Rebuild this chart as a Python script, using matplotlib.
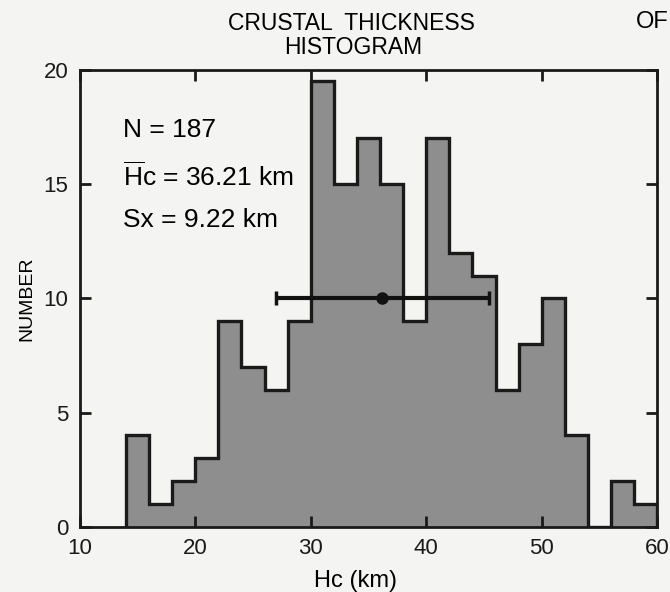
import numpy as np
import matplotlib.pyplot as plt

plt.rcParams["font.family"] = ["Liberation Sans", "DejaVu Sans"]
plt.rcParams["mathtext.fontset"] = "custom"
plt.rcParams["mathtext.rm"] = "Liberation Sans"

# ---------- DATA ----------
bin_edges = [14, 16, 18, 20, 22, 24, 26, 28, 30, 32, 34, 36, 38, 40,
             42, 44, 46, 48, 50, 52, 54, 56, 58, 60]
counts = [4, 1, 2, 3, 9, 7, 6, 9, 19.5, 15, 17, 15, 9, 17,
          12, 11, 6, 8, 10, 4, 0, 2, 1]
mean_hc = 36.21
std_hc = 9.22
n_obs = 187
errbar_level = 10

x_ticks = [10, 20, 30, 40, 50, 60]
y_ticks = [0, 5, 10, 15, 20]

# ---------- FIGURE ----------
bg = "#f4f4f2"
ink = "#1a1a1a"
fig = plt.figure(figsize=(6.7, 5.92), dpi=100, facecolor=bg)
ax = fig.add_axes([0.119, 0.110, 0.862, 0.772], facecolor=bg)

edges = np.array(bin_edges)
ax.bar(edges[:-1], counts, width=np.diff(edges), align="edge",
       color="#8e8e8e", edgecolor="none", zorder=1)
ax.stairs(counts, edges, color=ink, linewidth=2.4, zorder=2)

# mean +/- one standard deviation
ax.errorbar([mean_hc], [errbar_level], xerr=[std_hc], fmt="o",
            color="#111111", markersize=8, elinewidth=3,
            capsize=5, capthick=2.5, zorder=3)

ax.set_xlim(10, 60)
ax.set_ylim(0, 20)
ax.set_xticks(x_ticks)
ax.set_yticks(y_ticks)
ax.tick_params(direction="in", length=8, width=2, labelsize=16,
               top=True, right=True, colors=ink, pad=8)
for side in ax.spines.values():
    side.set_linewidth(2)
    side.set_color(ink)

ax.set_xlabel("Hc (km)", fontsize=17)
ax.xaxis.set_label_coords(0.477, -0.094)
ax.set_ylabel("NUMBER", fontsize=14, labelpad=6)

ax.text(0.075, 0.869, f"N = {n_obs}", transform=ax.transAxes,
        fontsize=19, va="center")
ax.text(0.075, 0.766, r"$\overline{\mathrm{H}}$c = 36.21 km",
        transform=ax.transAxes, fontsize=19, va="center")
ax.text(0.075, 0.672, "Sx = 9.22 km", transform=ax.transAxes,
        fontsize=19, va="center")

fig.text(0.525, 0.961, "CRUSTAL  THICKNESS", ha="center", va="center",
         fontsize=16.5)
fig.text(0.527, 0.919, "HISTOGRAM", ha="center", va="center", fontsize=16.5)
fig.text(0.998, 0.962, "OF", ha="right", va="center", fontsize=17)

fig.savefig("out.png", dpi=100, facecolor=bg)
